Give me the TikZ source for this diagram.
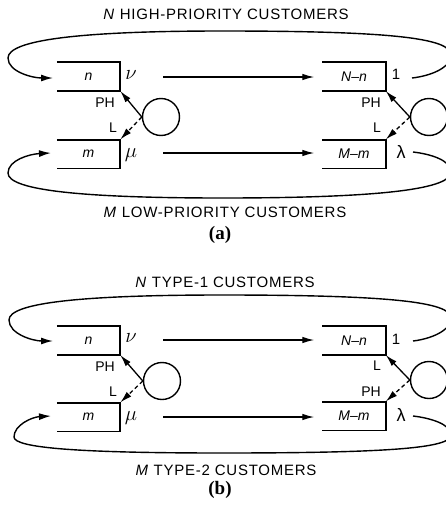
\documentclass[tikz,border=0pt]{standalone}
\usepackage{fontspec}
\setmainfont{Liberation Sans}
\newfontfamily\capsfont{Liberation Sans}[LetterSpace=5]
\newfontfamily\serifbold{Liberation Serif}[BoldFont={Liberation Serif Bold}]
\usetikzlibrary{arrows.meta}

\tikzset{
  qbox/.style={minimum width=63pt, minimum height=28.5pt, inner sep=0pt,
               font=\fontsize{14}{16}\selectfont\itshape},
  boxline/.style={line width=1.9pt, line join=miter},
  loopline/.style={line width=1.4pt, -{Latex[length=12pt,width=7pt]}},
  flow/.style={line width=1.3pt, -{Latex[length=12pt,width=6.5pt]}},
  server/.style={circle, draw, line width=1.4pt, minimum size=37pt, inner sep=0pt},
  rate/.style={inner sep=0pt, font=\fontsize{20}{22}\selectfont},
  tag/.style={inner sep=0pt, font=\fontsize{14}{16}\selectfont},
  headline/.style={inner sep=0pt, font=\capsfont\fontsize{15}{17}\selectfont},
  panel/.style={inner sep=0pt, font=\serifbold\bfseries\fontsize{19}{21}\selectfont}
}

\newcommand{\openbox}[1]{%
  \draw[boxline] (#1.north west) -- (#1.north east) -- (#1.south east) -- (#1.south west);}

\begin{document}
\begin{tikzpicture}[x=1pt, y=-1pt]
\useasboundingbox (0,0) rectangle (445,509);

% ---------------- (a) high/low priority ----------------
\node[headline] (ta) at (226,14) {\textit{N} HIGH-PRIORITY CUSTOMERS};

\node[qbox] (an)  at (88.5,76.5)  {n};
\node[qbox] (aNn) at (354,76.5)   {N–n};
\node[qbox] (am)  at (88.5,154)   {m};
\node[qbox] (aMm) at (354,154)    {M–m};
\openbox{an}\openbox{aNn}\openbox{am}\openbox{aMm}

\node[rate] (anu)  at (131,75)  {$\nu$};
\node[rate] (aone) at (396,74)  {\fontsize{15}{16}\selectfont 1};
\node[rate] (amu)  at (131,155) {$\mu$};
\node[rate] (alam) at (401,152) {\fontsize{18}{20}\selectfont λ};

\coordinate (aflow1) at (163,77);
\coordinate (aflow2) at (163,153);
\draw[flow, shorten >=8pt] (aflow1) -- (aNn.west |- aflow1);
\draw[flow, shorten >=8pt] (aflow2) -- (aMm.west |- aflow2);

\node[server] (as1) at (161,117) {};
\node[server] (as2) at (429,117) {};
\draw[flow] (as1.west) -- (an.south east);
\draw[flow, dashed, dash pattern=on 4pt off 3pt] (as1.west) -- (am.north east);
\draw[flow] (as2.west) -- (aNn.south east);
\draw[flow, dashed, dash pattern=on 4pt off 3pt] (as2.west) -- (aMm.north east);

\node[tag] (aph1) at (105,103) {PH};
\node[tag] (al1)  at (113,128) {L};
\node[tag] (aph2) at (371,103) {PH};
\node[tag] (al2)  at (377,128) {L};

\coordinate (atop0) at (412,78);
\coordinate (atop1) at (53,78);
\draw[loopline] (atop0) .. controls (430,76) and (451,68) .. (451,55)
  .. controls (451,38) and (390,31) .. (222,31)
  .. controls (80,31) and (8,40) .. (8,58)
  .. controls (8,72) and (33,78) .. (atop1);

\coordinate (abot0) at (413,152);
\coordinate (abot1) at (51,153);
\draw[loopline] (abot0) .. controls (430,154) and (451,160) .. (451,172)
  .. controls (451,188) and (390,198) .. (222,198)
  .. controls (80,198) and (8,190) .. (8,173)
  .. controls (8,160) and (30,154) .. (abot1);

\node[headline] (ba) at (225,212) {\textit{M} LOW-PRIORITY CUSTOMERS};
\node[panel] (pa) at (220,235) {(a)};

% ---------------- (b) type-1 / type-2 ----------------
\node[headline] (tb) at (225,282) {\textit{N} TYPE-1 CUSTOMERS};

\node[qbox] (bn)  at (88.5,340.5) {n};
\node[qbox] (bNn) at (354,340.5)  {N–n};
\node[qbox] (bm)  at (88.5,417)   {m};
\node[qbox] (bMm) at (354,416)    {M–m};
\openbox{bn}\openbox{bNn}\openbox{bm}\openbox{bMm}

\node[rate] (bnu)  at (131,338) {$\nu$};
\node[rate] (bone) at (396,339) {\fontsize{15}{16}\selectfont 1};
\node[rate] (bmu)  at (131,418) {$\mu$};
\node[rate] (blam) at (401,415) {\fontsize{18}{20}\selectfont λ};

\coordinate (bflow1) at (163,340);
\coordinate (bflow2) at (163,417);
\draw[flow, shorten >=8pt] (bflow1) -- (bNn.west |- bflow1);
\draw[flow, shorten >=8pt] (bflow2) -- (bMm.west |- bflow2);

\node[server] (bs1) at (162,381) {};
\node[server] (bs2) at (429,380) {};
\draw[flow] (bs1.west) -- (bn.south east);
\draw[flow, dashed, dash pattern=on 4pt off 3pt] (bs1.west) -- (bm.north east);
\draw[flow] (bs2.west) -- (bNn.south east);
\draw[flow, dashed, dash pattern=on 4pt off 3pt] (bs2.west) -- (bMm.north east);

\node[tag] (bph1) at (105,367) {PH};
\node[tag] (bl1)  at (113,392) {L};
\node[tag] (bl2)  at (377,366) {L};
\node[tag] (bph2) at (371,392) {PH};

\coordinate (btop0) at (413,341);
\coordinate (btop1) at (53,341);
\draw[loopline] (btop0) .. controls (430,339) and (451,331) .. (451,318)
  .. controls (451,302) and (390,295) .. (222,295)
  .. controls (80,295) and (9,303) .. (9,320)
  .. controls (9,334) and (33,341) .. (btop1);

\coordinate (bbot0) at (413,416);
\coordinate (bbot1) at (51,416);
\draw[loopline] (bbot0) .. controls (430,418) and (451,424) .. (451,435)
  .. controls (451,448) and (390,453) .. (222,453)
  .. controls (80,453) and (14,448) .. (14,437)
  .. controls (14,425) and (32,417) .. (bbot1);

\node[headline] (bb) at (226,470) {\textit{M} TYPE-2 CUSTOMERS};
\node[panel] (pb) at (220,490) {(b)};
\end{tikzpicture}
\end{document}
